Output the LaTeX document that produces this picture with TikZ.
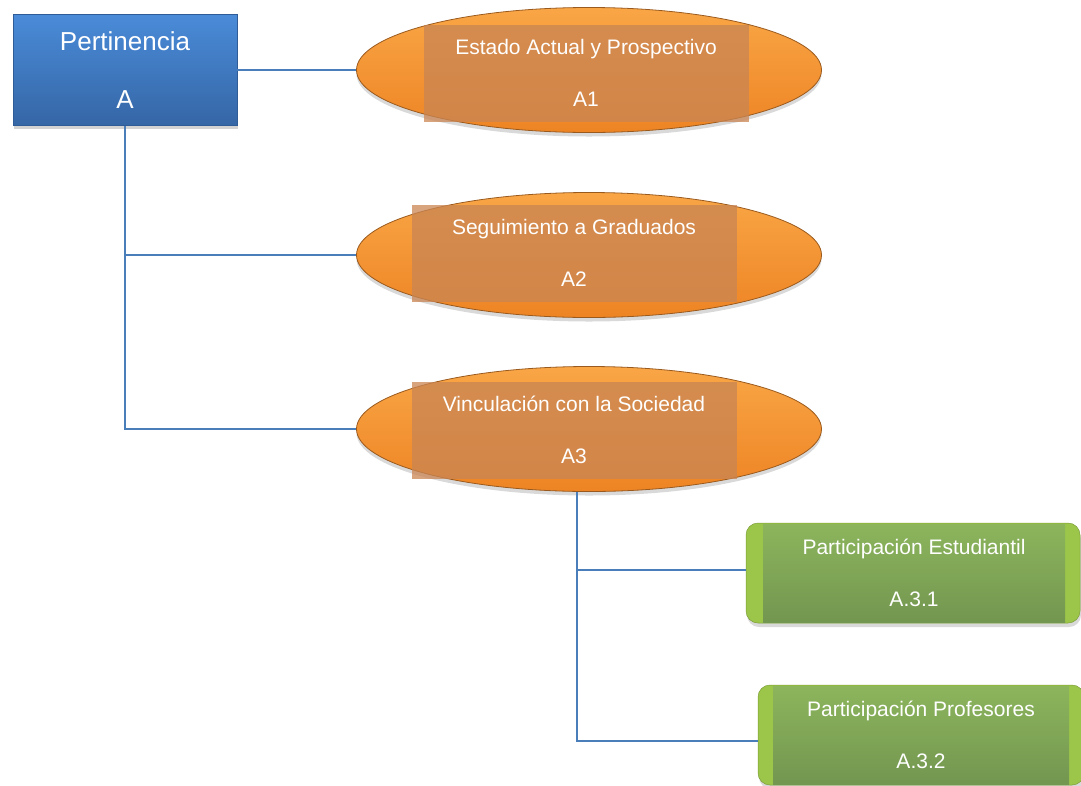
\documentclass[tikz,border=0pt]{standalone}
\usepackage{fontspec}
\setmainfont{Liberation Sans}
\usetikzlibrary{shapes.geometric,shadows}
\definecolor{conn}{HTML}{4A7EBB}
\definecolor{blueT}{HTML}{4A8BD8}
\definecolor{blueB}{HTML}{3566A6}
\definecolor{blueE}{HTML}{2F5C96}
\definecolor{orT}{HTML}{F9A646}
\definecolor{orB}{HTML}{EE8424}
\definecolor{orE}{HTML}{9A5A1E}
\definecolor{orIn}{HTML}{C98553}
\definecolor{grOut}{HTML}{9CC649}
\definecolor{grT}{HTML}{8CB55C}
\definecolor{grB}{HTML}{739650}
\begin{document}
\begin{tikzpicture}[x=1pt,y=-1pt,
  connector/.style={draw=conn,line width=1.5pt},
  bluebox/.style={rectangle,minimum width=224pt,minimum height=111pt,inner sep=0pt,
    top color=blueT,bottom color=blueB,draw=blueE,line width=0.6pt,
    drop shadow={shadow xshift=1pt,shadow yshift=-3pt,opacity=0.35},
    text=white,align=center,font=\fontsize{26}{58}\selectfont},
  oval/.style={ellipse,minimum width=465pt,minimum height=125pt,inner sep=0pt,
    top color=orT,bottom color=orB,draw=orE,line width=0.8pt,
    drop shadow={shadow xshift=0pt,shadow yshift=-4pt,opacity=0.3}},
  ovaltext/.style={rectangle,minimum width=325pt,minimum height=97pt,inner sep=0pt,
    fill=orIn,fill opacity=0.75,text opacity=1,text=white,align=center,
    font=\fontsize{21}{52}\selectfont},
  greenbox/.style={rectangle,rounded corners=12pt,minimum width=334pt,minimum height=100pt,
    inner sep=0pt,fill=grOut,draw=grOut!80!black,line width=0.5pt,
    drop shadow={shadow xshift=1pt,shadow yshift=-4pt,opacity=0.3}},
  greentext/.style={rectangle,minimum width=302pt,minimum height=98pt,inner sep=0pt,
    top color=grT,bottom color=grB,text=white,align=center,
    font=\fontsize{21}{52}\selectfont}
]
\useasboundingbox (0,0) rectangle (1081,785);

\node[bluebox] (A) at (125,70) {Pertinencia\\A};

\node[oval] (e1) at (589,70) {};
\node[ovaltext] (t1) at (586,73) {Estado Actual y Prospectivo\\A1};

\node[oval] (e2) at (589,255) {};
\node[ovaltext] (t2) at (574,253) {Seguimiento a Graduados\\A2};

\node[oval] (e3) at (589,429) {};
\node[ovaltext] (t3) at (574,430) {Vinculación con la Sociedad\\A3};

\node[greenbox] (g1) at (913,573) {};
\node[greentext] (gt1) at (914,573) {Participación Estudiantil\\A.3.1};

\node[greenbox,minimum width=326pt] (g2) at (921,735) {};
\node[greentext,minimum width=296pt] (gt2) at (921,735) {Participación Profesores\\A.3.2};

\draw[connector] (A.east) -- (e1.west);
\draw[connector] (A.south) -- (A.south |- e3.west) -- (e3.west);
\draw[connector] (A.south |- e2.west) -- (e2.west);
\draw[connector] ([xshift=-12pt]e3.south) |- ([yshift=-6pt]g2.west);
\draw[connector] ([xshift=-12pt]e3.south |- g1.west) ++(0,-3) coordinate (h1) -- (h1 -| g1.west);
\end{tikzpicture}
\end{document}
